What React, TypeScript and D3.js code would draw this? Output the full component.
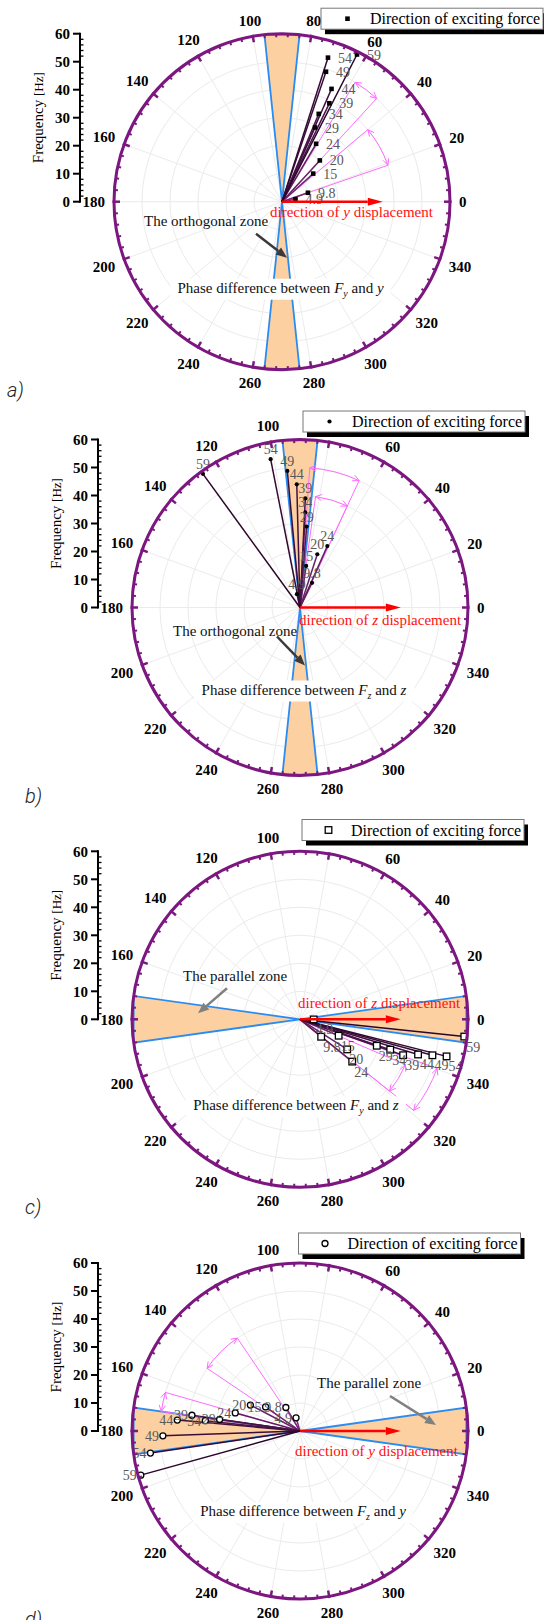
import React from 'react';
import * as d3 from 'd3';

// ---------- data ----------
const freqs = [4.9, 9.8, 15, 20, 24, 29, 34, 39, 44, 49, 54, 59];
const freqLabels = ['4.9', '9.8', '15', '20', '24', '29', '34', '39', '44', '49', '54', '59'];
const phaseA = [10.5, 19, 42, 47.5, 59.5, 66, 67.3, 64.3, 66.3, 71.3, 72.3, 63];
const phaseB = [103, 64, 81.6, 72, 66, 85.3, 86.8, 87.2, 91.5, 95.3, 101.2, 126];
const phaseC = [359.5, 320.5, 337, 327.5, 321, 341, 341.4, 340.8, 343.4, 344.8, 345.8, 354];
const phaseD = [106.7, 121, 145, 152.4, 164.4, 171.8, 173.8, 171.7, 174.9, 182, 188.4, 195.5];
const angleTicks = d3.range(0, 360, 20);
const freqTicks = [0, 10, 20, 30, 40, 50, 60];
const gridFreqs = [10, 20, 30, 40, 50];
const pinkA = [{ r: 40, a1: 19, a2: 40 }, { r: 50, a1: 47.5, a2: 58.5 }];
const pinkB = [{ r: 40, a1: 65, a2: 82 }, { r: 50, a1: 65, a2: 86 }];
const pinkC = [{ r: 41, a1: -38.8, a2: -23.3 }, { r: 52, a1: -38.7, a2: -19.7 }];
const pinkD = [{ r: 40, a1: 124, a2: 146 }, { r: 50, a1: 164, a2: 172 }];
const legendText = 'Direction of exciting force';

// ---------- layout ----------
const R = 168;
const rScale = d3.scaleLinear().domain([0, 60]).range([0, R]);
const rad = (d: number) => (d * Math.PI) / 180;
const SERIF = '"Liberation Serif", "Times New Roman", serif';
const PURPLE = '#7c1780';
const BLUE = '#2a8cf0';
const ORANGE = '#fdd0a2';
const PINK = '#ff6cff';
const GRID = '#ebebeb';
const lineColor = d3.scaleLinear<string>().domain([0, 11]).range(['#7a2c78', '#2c052b']).interpolate(d3.interpolateRgb);

type Panel = {
  cx: number; cy: number; phases: number[]; marker: string; zoneCenter: number; zoneHalf: number;
  zoneName: string; dispVar: string; forceSub: string; respVar: string; labelPos: string;
  pinks: { r: number; a1: number; a2: number }[]; letter: string;
  disp: [number, number]; zoneTxt: [number, number]; zoneArrow: number[]; zoneArrowColor: string;
  phaseTxt: [number, number]; legend: [number, number];
};

const panels: Panel[] = [
  { cx: 282, cy: 201.7, phases: phaseA, marker: 'fsq', zoneCenter: 90, zoneHalf: 6, zoneName: 'The orthogonal zone',
    dispVar: 'y', forceSub: 'y', respVar: 'y', labelPos: 'right', pinks: pinkA, letter: 'a)',
    disp: [-12, 15], zoneTxt: [-138, 24], zoneArrow: [-26, 32, 5, 56], zoneArrowColor: '#3a3a3a', phaseTxt: [-1.5, 91], legend: [39, -193.5] },
  { cx: 300, cy: 607.5, phases: phaseB, marker: 'fci', zoneCenter: 90, zoneHalf: 6, zoneName: 'The orthogonal zone',
    dispVar: 'z', forceSub: 'z', respVar: 'z', labelPos: 'above', pinks: pinkB, letter: 'b)',
    disp: [-1, 17], zoneTxt: [-127, 28], zoneArrow: [-23, 29, 5, 58], zoneArrowColor: '#3a3a3a', phaseTxt: [4, 87], legend: [3, -196.5] },
  { cx: 300, cy: 1019.3, phases: phaseC, marker: 'osq', zoneCenter: 0, zoneHalf: 8, zoneName: 'The parallel zone',
    dispVar: 'z', forceSub: 'y', respVar: 'z', labelPos: 'belowright', pinks: pinkC, letter: 'c)',
    disp: [-2, -11], zoneTxt: [-117, -38], zoneArrow: [-73, -31, -102, -6], zoneArrowColor: '#808080', phaseTxt: [-4, 91], legend: [2, -199.8] },
  { cx: 300, cy: 1431, phases: phaseD, marker: 'oci', zoneCenter: 0, zoneHalf: 8, zoneName: 'The parallel zone',
    dispVar: 'y', forceSub: 'z', respVar: 'y', labelPos: 'left', pinks: pinkD, letter: 'd)',
    disp: [-5, 25], zoneTxt: [17, -43], zoneArrow: [90, -35, 136, -6], zoneArrowColor: '#808080', phaseTxt: [3, 85], legend: [-1.5, -198] },
];

function pt(cx: number, cy: number, f: number, deg: number): [number, number] {
  const r = rScale(f);
  return [cx + r * Math.cos(rad(deg)), cy - r * Math.sin(rad(deg))];
}

function Marker({ kind, x, y }: { kind: string; x: number; y: number }) {
  if (kind === 'fsq') return <rect x={x - 2.3} y={y - 2.3} width={4.6} height={4.6} fill="#000" />;
  if (kind === 'fci') return <circle cx={x} cy={y} r={2.1} fill="#000" />;
  if (kind === 'osq') return <rect x={x - 3.3} y={y - 3.3} width={6.6} height={6.6} fill="#fff" stroke="#000" strokeWidth={1.3} />;
  return <circle cx={x} cy={y} r={3} fill="#fff" stroke="#000" strokeWidth={1.3} />;
}

function Arrow({ x1, y1, x2, y2, color, w, hl, hw }: any) {
  const ang = Math.atan2(y2 - y1, x2 - x1);
  const bx = x2 - hl * Math.cos(ang), by = y2 - hl * Math.sin(ang);
  const px = -Math.sin(ang), py = Math.cos(ang);
  return (
    <g>
      <line x1={x1} y1={y1} x2={bx} y2={by} stroke={color} strokeWidth={w} />
      <path d={`M${x2},${y2}L${bx + px * hw},${by + py * hw}L${bx - px * hw},${by - py * hw}Z`} fill={color} />
    </g>
  );
}

function PinkArc({ cx, cy, r, a1, a2 }: any) {
  const p1 = pt(cx, cy, r, a1), p2 = pt(cx, cy, r, a2);
  const rr = rScale(r);
  const head = (p: [number, number], a: number, dir: number) => {
    const tx = dir * Math.sin(rad(a)), ty = dir * Math.cos(rad(a));
    const back = Math.atan2(-ty, -tx);
    const L = 7;
    const h1 = [p[0] + L * Math.cos(back + 0.45), p[1] + L * Math.sin(back + 0.45)];
    const h2 = [p[0] + L * Math.cos(back - 0.45), p[1] + L * Math.sin(back - 0.45)];
    return `M${h1[0]},${h1[1]}L${p[0]},${p[1]}L${h2[0]},${h2[1]}`;
  };
  return (
    <g stroke={PINK} strokeWidth={1} fill="none">
      <line x1={cx} y1={cy} x2={p1[0]} y2={p1[1]} />
      <line x1={cx} y1={cy} x2={p2[0]} y2={p2[1]} />
      <path d={`M${p1[0]},${p1[1]}A${rr},${rr} 0 0 0 ${p2[0]},${p2[1]}`} />
      <path d={head(p1, a1, 1)} />
      <path d={head(p2, a2, -1)} />
    </g>
  );
}

function PolarPanel({ p }: { p: Panel }) {
  const { cx, cy } = p;
  const axisX = cx - 202;
  const zones = [p.zoneCenter, p.zoneCenter + 180].map((c) => {
    const a = pt(cx, cy, 60, c - p.zoneHalf), b = pt(cx, cy, 60, c + p.zoneHalf);
    return `M${cx},${cy}L${a[0]},${a[1]}L${b[0]},${b[1]}Z`;
  });
  const minorTicks = d3.range(0, 360, 4).filter((d) => d % 20 !== 0);
  const lg = [cx + p.legend[0], cy + p.legend[1]];
  const lgW = 222, lgH = 21;
  return (
    <g>
      {/* grid */}
      {gridFreqs.map((f) => (
        <circle key={'g' + f} cx={cx} cy={cy} r={rScale(f)} fill="none" stroke={GRID} strokeWidth={1} />
      ))}
      {angleTicks.map((a) => {
        const e = pt(cx, cy, 60, a);
        return <line key={'rg' + a} x1={cx} y1={cy} x2={e[0]} y2={e[1]} stroke={GRID} strokeWidth={1} />;
      })}
      {/* zones */}
      {zones.map((d, i) => (
        <path key={'z' + i} d={d} fill={ORANGE} stroke={BLUE} strokeWidth={1.8} strokeLinejoin="miter" />
      ))}
      {/* pink arcs */}
      {p.pinks.map((k, i) => (
        <PinkArc key={'pk' + i} cx={cx} cy={cy} r={k.r} a1={k.a1} a2={k.a2} />
      ))}
      {/* data lines */}
      {freqs.map((f, i) => {
        const e = pt(cx, cy, f, p.phases[i]);
        return <line key={'l' + i} x1={cx} y1={cy} x2={e[0]} y2={e[1]} stroke={lineColor(i)} strokeWidth={1.5} />;
      })}
      {freqs.map((f, i) => {
        const e = pt(cx, cy, f, p.phases[i]);
        return <Marker key={'m' + i} kind={p.marker} x={e[0]} y={e[1]} />;
      })}
      {/* data labels */}
      {freqs.map((f, i) => {
        const e = pt(cx, cy, f, p.phases[i]);
        let x = e[0], y = e[1], anchor = 'start';
        if (p.labelPos === 'right') { x += 10; y += 5; }
        else if (p.labelPos === 'above') { anchor = 'middle'; y -= 5; }
        else if (p.labelPos === 'belowright') { x += 2; y += 15; }
        else { anchor = 'end'; x -= 4; y += 5; }
        return (
          <text key={'t' + i} x={x} y={y} fontSize={14} fill="#595959" textAnchor={anchor} fontFamily={SERIF}>
            {freqLabels[i]}
          </text>
        );
      })}
      {/* outer circle + ticks */}
      <circle cx={cx} cy={cy} r={R} fill="none" stroke={PURPLE} strokeWidth={3} />
      {angleTicks.map((a) => {
        const o = [cx + (R + 1.5) * Math.cos(rad(a)), cy - (R + 1.5) * Math.sin(rad(a))];
        const n = [cx + (R - 6) * Math.cos(rad(a)), cy - (R - 6) * Math.sin(rad(a))];
        return <line key={'mt' + a} x1={o[0]} y1={o[1]} x2={n[0]} y2={n[1]} stroke={PURPLE} strokeWidth={2.5} />;
      })}
      {minorTicks.map((a) => {
        const o = [cx + R * Math.cos(rad(a)), cy - R * Math.sin(rad(a))];
        const n = [cx + (R - 3.5) * Math.cos(rad(a)), cy - (R - 3.5) * Math.sin(rad(a))];
        return <line key={'nt' + a} x1={o[0]} y1={o[1]} x2={n[0]} y2={n[1]} stroke={PURPLE} strokeWidth={2} />;
      })}
      {angleTicks.map((a) => {
        const s = String(a);
        const w = s.length * 7.5, h = 10.5;
        const d = 177 + (w / 2) * Math.abs(Math.cos(rad(a))) + (h / 2) * Math.abs(Math.sin(rad(a)));
        return (
          <text key={'al' + a} x={cx + d * Math.cos(rad(a))} y={cy - d * Math.sin(rad(a)) + 5.3}
            textAnchor="middle" fontSize={15} fontWeight="bold" fontFamily={SERIF}>{s}</text>
        );
      })}
      {/* frequency axis */}
      <line x1={axisX} y1={cy - R - 1} x2={axisX} y2={cy + 1} stroke="#000" strokeWidth={2} />
      {d3.range(0, 61, 2).map((f) => {
        const y = cy - rScale(f);
        return f % 10 === 0
          ? <line key={'ft' + f} x1={axisX - 7} y1={y} x2={axisX} y2={y} stroke="#000" strokeWidth={2} />
          : <line key={'ft' + f} x1={axisX} y1={y} x2={axisX + 3.5} y2={y} stroke="#000" strokeWidth={1.3} />;
      })}
      {freqTicks.map((f) => (
        <text key={'fl' + f} x={axisX - 10} y={cy - rScale(f) + 5.3} textAnchor="end" fontSize={15} fontWeight="bold" fontFamily={SERIF}>{f}</text>
      ))}
      <text transform={`translate(${axisX - 37},${cy - R / 2}) rotate(-90)`} textAnchor="middle" fontSize={15} fontFamily={SERIF}>
        Frequency <tspan fontSize={13}>[Hz]</tspan>
      </text>
      {/* displacement arrow */}
      <Arrow x1={cx} y1={cy} x2={cx + rScale(36)} y2={cy} color="#ff0000" w={2.5} hl={15} hw={4} />
      <text x={cx + p.disp[0]} y={cy + p.disp[1]} fontSize={15} fill="#ff1010" fontFamily={SERIF}>
        direction of <tspan fontStyle="italic">{p.dispVar}</tspan> displacement
      </text>
      {/* zone label */}
      <text x={cx + p.zoneTxt[0]} y={cy + p.zoneTxt[1]} fontSize={15} fill="#111" fontFamily={SERIF}>{p.zoneName}</text>
      <Arrow x1={cx + p.zoneArrow[0]} y1={cy + p.zoneArrow[1]} x2={cx + p.zoneArrow[2]} y2={cy + p.zoneArrow[3]}
        color={p.zoneArrowColor} w={2.5} hl={11} hw={4.5} />
      {/* phase label */}
      <rect x={cx + p.phaseTxt[0] - 110} y={cy + p.phaseTxt[1] - 14} width={220} height={21} fill="#fff" />
      <text x={cx + p.phaseTxt[0]} y={cy + p.phaseTxt[1]} textAnchor="middle" fontSize={15} fill="#111" fontFamily={SERIF}>
        Phase difference between <tspan fontStyle="italic">F</tspan><tspan fontStyle="italic" fontSize={10} dy={4}>{p.forceSub}</tspan><tspan dy={-4}> and </tspan><tspan fontStyle="italic">{p.respVar}</tspan>
      </text>
      {/* legend */}
      <rect x={lg[0] + 4} y={lg[1] + 5} width={lgW} height={lgH} fill="#000" />
      <rect x={lg[0]} y={lg[1]} width={lgW} height={lgH} fill="#fff" stroke="#777" strokeWidth={1} />
      <Marker kind={p.marker} x={lg[0] + 26.5} y={lg[1] + lgH / 2} />
      <text x={lg[0] + 49} y={lg[1] + 16} fontSize={16} fontFamily={SERIF}>{legendText}</text>
      {/* panel letter */}
      <text x={cx - 275} y={cy + 195} fontSize={20} fontStyle="italic" fontWeight={300} fontFamily="Roboto, sans-serif" fill="#222">{p.letter}</text>
    </g>
  );
}

export default function App() {
  return (
    <svg width={544} height={1620} style={{ position: 'absolute', left: 0, top: 0, background: '#fff' }}>
      <rect x={0} y={0} width={544} height={1620} fill="#fff" />
      {panels.map((p, i) => <PolarPanel key={i} p={p} />)}
    </svg>
  );
}
